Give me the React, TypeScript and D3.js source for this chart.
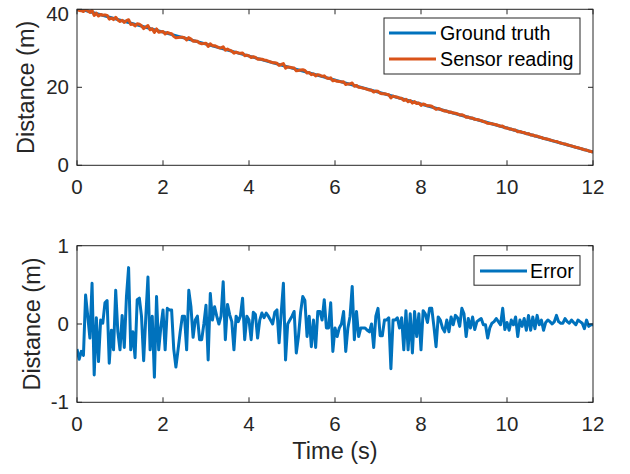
import React from 'react';
import * as d3 from 'd3';

// sample spacing of the recorded signals (s)
const timeStep = 0.05;

// error (m), one value per sample
const errorValues: number[] = [
  -0.32, -0.45, -0.35, -0.40, 0.37, 0.10, -0.18, 0.52, -0.65, 0.08,
  -0.48, 0.05, 0.01, 0.27, 0.30, -0.50, -0.08, -0.33, 0.43, -0.10,
  -0.33, 0.11, -0.30, 0.35, 0.72, -0.33, -0.10, -0.43, 0.31, 0.33,
  0.10, -0.47, 0.09, 0.60, -0.33, 0.10, -0.68, 0.35, -0.33, -0.04,
  0.18, -0.33, 0.20, 0.18, 0.18, -0.32, -0.55, -0.33, -0.10, 0.10,
  0.10, -0.33, 0.43, 0.22, -0.17, 0.05, 0.10, -0.20, -0.20, 0.00,
  0.24, -0.46, 0.39, 0.05, 0.22, 0.10, 0.00, 0.10, 0.54, -0.20,
  0.25, 0.12, 0.03, -0.33, 0.10, 0.03, 0.10, 0.33, -0.20, 0.10,
  0.05, -0.20, 0.15, 0.12, -0.18, 0.05, 0.14, 0.08, 0.14, 0.10,
  0.05, 0.00, 0.15, 0.18, -0.24, 0.15, 0.52, -0.46, 0.00, 0.05,
  0.10, 0.16, -0.37, -0.16, 0.15, 0.35, 0.30, -0.16, 0.10, -0.29,
  0.05, -0.30, 0.16, 0.16, 0.05, 0.31, -0.05, -0.05, 0.27, -0.35,
  -0.05, -0.16, -0.05, 0.00, 0.16, -0.35, -0.05, 0.10, 0.48, -0.20,
  0.16, -0.16, -0.05, -0.05, -0.05, -0.08, -0.10, 0.00, -0.30, 0.10,
  0.20, -0.15, -0.15, 0.05, 0.05, 0.08, -0.57, 0.05, 0.05, 0.08,
  -0.05, 0.08, -0.33, 0.17, -0.33, 0.13, -0.37, 0.16, -0.16, 0.13,
  -0.33, 0.17, 0.13, 0.02, 0.20, 0.20, -0.03, -0.29, 0.09, 0.05,
  -0.05, -0.10, 0.05, -0.10, 0.09, -0.01, 0.11, 0.08, -0.03, 0.20,
  0.13, -0.16, 0.07, -0.05, 0.09, -0.07, 0.03, 0.05, 0.07, -0.01,
  -0.01, -0.18, -0.05, 0.01, 0.03, 0.07, 0.03, -0.01, 0.20, -0.07,
  0.02, -0.08, 0.05, -0.01, 0.09, -0.16, 0.05, -0.03, 0.07, -0.08,
  0.11, -0.08, 0.09, -0.06, 0.11, -0.01, 0.05, -0.08, 0.02, 0.05,
  0.03, 0.00, 0.03, 0.11, 0.03, 0.01, 0.01, 0.07, 0.03, 0.01,
  0.05, 0.02, -0.01, 0.05, 0.03, 0.01, -0.06, 0.05, -0.03, -0.01,
  -0.01,
];

// ground truth distance (m): straight line between these points
const truthTimes = [0, 12];
const truthValues = [40.3, 3.4];

const xTicks = [0, 2, 4, 6, 8, 10, 12];
const topYTicks = [0, 20, 40];
const bottomYTicks = [-1, 0, 1];

const topLegend = ['Ground truth', 'Sensor reading'];
const bottomLegend = ['Error'];

const BLUE = '#0072BD';
const ORANGE = '#D95319';
const AXIS = '#262626';
const FONT = '"Liberation Sans", Arial, Helvetica, sans-serif';

export default function App() {
  const W = 630, H = 474;
  const left = 77, right = 593;
  const top1 = 9.3, bottom1 = 165.3;
  const top2 = 245.7, bottom2 = 402.3;
  const tickLen = 5;
  const tickFont = 20.5;

  const x = d3.scaleLinear().domain([0, 12]).range([left, right]);
  const y1 = d3.scaleLinear().domain([0, 40]).range([bottom1, top1]);
  const y2 = d3.scaleLinear().domain([-1, 1]).range([bottom2, top2]);
  const truthAt = d3.scaleLinear().domain(truthTimes).range(truthValues);

  const samples = errorValues.map((e, i) => ({ t: i * timeStep, e }));
  const truthPts = truthTimes.map((t, i) => ({ t, v: truthValues[i] }));
  const sensorPts = samples.map(s => ({ t: s.t, v: truthAt(s.t) + s.e }));

  const lineTop = d3.line<{ t: number; v: number }>().x(d => x(d.t)).y(d => y1(d.v));
  const lineErr = d3.line<{ t: number; e: number }>().x(d => x(d.t)).y(d => y2(d.e));

  const renderAxes = (
    yScale: d3.ScaleLinear<number, number>,
    yTicks: number[],
    top: number,
    bottom: number,
    ylabelX: number,
  ) => (
    <g>
      <rect x={left} y={top} width={right - left} height={bottom - top} fill="none" stroke={AXIS} strokeWidth={1} />
      {xTicks.map(t => (
        <g key={'x' + t}>
          <line x1={x(t)} x2={x(t)} y1={bottom} y2={bottom - tickLen} stroke={AXIS} />
          <line x1={x(t)} x2={x(t)} y1={top} y2={top + tickLen} stroke={AXIS} />
          <text x={x(t)} y={bottom + 29} textAnchor="middle" fontSize={tickFont} fill={AXIS} fontFamily={FONT}>{t}</text>
        </g>
      ))}
      {yTicks.map(t => (
        <g key={'y' + t}>
          <line x1={left} x2={left + tickLen} y1={yScale(t)} y2={yScale(t)} stroke={AXIS} />
          <line x1={right} x2={right - tickLen} y1={yScale(t)} y2={yScale(t)} stroke={AXIS} />
          <text
            x={left - 8}
            y={Math.max(yScale(t), tickFont * 0.67)}
            dy="0.35em"
            textAnchor="end"
            fontSize={tickFont}
            fill={AXIS}
            fontFamily={FONT}
          >{t}</text>
        </g>
      ))}
      <text
        transform={`translate(${ylabelX},${(top + bottom) / 2}) rotate(-90)`}
        textAnchor="middle"
        dy="0.35em"
        fontSize={23.5}
        fill={AXIS}
        fontFamily={FONT}
      >Distance (m)</text>
    </g>
  );

  return (
    <svg width={W} height={H} style={{ position: 'absolute', left: 0, top: 0, background: '#fff' }}>
      <defs>
        <clipPath id="c1"><rect x={left} y={top1} width={right - left} height={bottom1 - top1} /></clipPath>
        <clipPath id="c2"><rect x={left} y={top2} width={right - left} height={bottom2 - top2} /></clipPath>
      </defs>
      <rect x={0} y={0} width={W} height={H} fill="#fff" />

      {/* top panel */}
      <g clipPath="url(#c1)">
        <path d={lineTop(truthPts) || ''} fill="none" stroke={BLUE} strokeWidth={3} />
        <path d={lineTop(sensorPts) || ''} fill="none" stroke={ORANGE} strokeWidth={3} strokeLinejoin="round" />
      </g>
      {renderAxes(y1, topYTicks, top1, bottom1, 26)}
      <g>
        <rect x={384} y={18} width={196} height={56} fill="#fff" stroke={AXIS} strokeWidth={1} />
        {topLegend.map((name, i) => (
          <g key={name}>
            <line x1={389} x2={436} y1={33 + i * 26} y2={33 + i * 26} stroke={i === 0 ? BLUE : ORANGE} strokeWidth={3} />
            <text x={440} y={33 + i * 26} dy="0.35em" fontSize={19.7} fill="#000" fontFamily={FONT}>{name}</text>
          </g>
        ))}
      </g>

      {/* bottom panel */}
      <g clipPath="url(#c2)">
        <path d={lineErr(samples) || ''} fill="none" stroke={BLUE} strokeWidth={3} strokeLinejoin="round" />
      </g>
      {renderAxes(y2, bottomYTicks, top2, bottom2, 32)}
      <g>
        <rect x={474} y={255.7} width={106} height={29.5} fill="#fff" stroke={AXIS} strokeWidth={1} />
        {bottomLegend.map(name => (
          <g key={name}>
            <line x1={480} x2={527} y1={271} y2={271} stroke={BLUE} strokeWidth={3} />
            <text x={530} y={271} dy="0.35em" fontSize={19.7} fill="#000" fontFamily={FONT}>{name}</text>
          </g>
        ))}
      </g>
      <text x={(left + right) / 2} y={459} textAnchor="middle" fontSize={23.5} fill={AXIS} fontFamily={FONT}>Time (s)</text>
    </svg>
  );
}
